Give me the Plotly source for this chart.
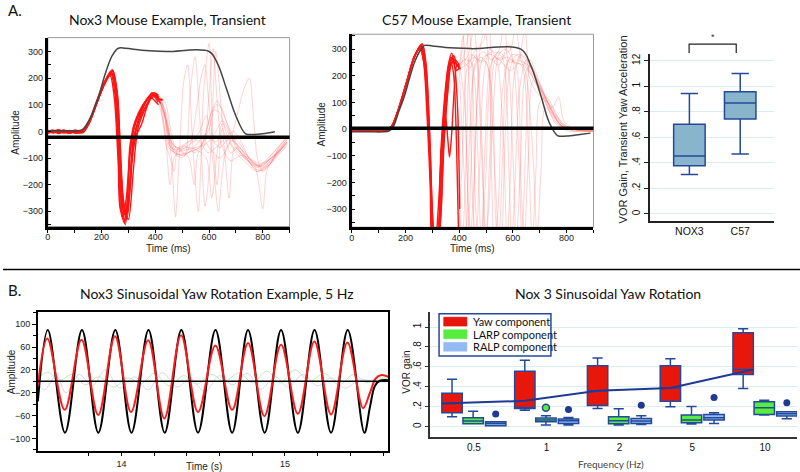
import plotly.graph_objects as go

# ======================= DATA =======================
# ---- Panel A, left: Nox3 transient (time ms, amplitude) ----
NOX3_STIM_T = [0, 60, 110, 130, 160, 190, 215, 240, 262, 290, 350, 440, 600, 630, 665, 700, 735, 760, 800, 845]
NOX3_STIM_V = [2, 2, 2, 8, 55, 135, 220, 285, 312, 312, 305, 300, 300, 258, 160, 58, -8, -12, -9, -1]
NOX3_BASELINE = -22

NOX3_BRIGHT = [
    [(0,-4),(20,4),(40,-6),(60,2),(80,-5),(100,3),(125,-3),(145,20),(175,90),(205,170),(235,225),(252,150),(265,-100),(278,-330),(292,-250),(310,-40),(330,40),(355,95),(380,135),(398,140),(415,120)],
    [(0,2),(20,-6),(40,3),(60,-4),(80,4),(100,-6),(130,0),(150,30),(180,110),(210,185),(240,232),(257,140),(270,-120),(285,-345),(300,-260),(318,-30),(340,50),(365,110),(388,145),(405,128),(425,115)],
    [(0,-8),(20,0),(40,-3),(60,5),(80,-7),(100,-1),(130,-5),(155,35),(185,115),(215,190),(232,210),(248,120),(262,-120),(272,-300),(288,-310),(305,-60),(322,30),(350,90),(375,130),(392,135),(410,110)],
    [(0,3),(20,-3),(40,6),(60,-2),(80,0),(100,-5),(128,2),(150,25),(180,100),(210,175),(238,220),(256,160),(270,-60),(284,-290),(300,-330),(318,-150),(335,10),(360,80),(385,125),(400,130),(420,105)],
    [(0,-2),(20,5),(40,-8),(60,0),(80,3),(100,-4),(130,-2),(152,28),(182,105),(212,180),(242,228),(260,130),(272,-150),(288,-350),(305,-230),(322,-20),(345,55),(370,105),(392,140),(410,125),(428,118)],
    [(0,5),(20,-4),(40,0),(60,-6),(80,2),(100,0),(130,3),(148,22),(178,95),(208,172),(236,215),(253,165),(266,-40),(282,-260),(296,-320),(312,-120),(332,20),(358,100),(382,128),(398,115),(412,100)],
    [(0,-6),(20,2),(40,4),(60,-3),(80,-6),(100,2),(130,-4),(155,32),(185,112),(215,188),(240,226),(256,150),(268,-130),(282,-340),(298,-280),(315,-80),(332,-10),(350,30),(372,100),(395,138),(415,130)],
    [(0,1),(20,-2),(40,-5),(60,4),(80,-3),(100,5),(130,-1),(150,26),(180,102),(210,178),(234,218),(250,140),(263,-90),(276,-320),(290,-300),(306,-90),(325,35),(352,98),(378,128),(395,145),(412,135)],
]
NOX3_FAINT = [
    [(415,120),(435,60),(455,-40),(475,-75),(510,-70),(550,-60),(585,-50),(620,-10),(650,40),(680,-10),(710,-70),(745,-110),(775,-135),(805,-125),(840,-90),(870,-55),(890,-35)],
    [(410,110),(430,40),(450,-60),(480,-85),(520,-80),(560,-65),(600,10),(625,100),(645,90),(670,20),(700,-60),(740,-100),(770,-140),(800,-145),(835,-110),(865,-70),(890,-40)],
    [(425,115),(445,20),(462,-70),(495,-90),(530,-75),(570,-55),(605,60),(630,115),(655,60),(690,-20),(725,-90),(760,-125),(790,-130),(820,-110),(855,-80),(890,-50)],
    [(420,100),(440,-50),(460,-120),(475,-320),(490,-80),(505,180),(520,250),(540,-60),(560,-300),(580,150),(600,330),(615,-50),(630,-200),(650,10),(680,-80),(710,-60),(740,-100),(780,-150),(820,-120),(860,-70),(890,-30)],
    [(412,130),(432,90),(450,-20),(470,-150),(485,-60),(510,-90),(530,150),(548,280),(565,60),(585,-280),(605,-100),(625,300),(640,150),(660,-100),(675,-250),(695,-60),(720,-80),(750,-110),(785,-130),(820,-100),(855,-60),(890,-20)],
    [(415,125),(440,70),(465,-50),(500,-65),(540,-40),(575,-20),(600,-60),(640,-100),(670,-60),(700,40),(730,160),(750,200),(765,60),(780,-100),(800,-150),(830,-120),(860,-60),(890,-25)],
    [(420,110),(445,30),(470,-80),(500,-100),(530,-50),(550,60),(570,200),(585,250),(600,100),(620,-40),(650,-20),(690,-60),(730,-100),(770,-130),(800,-290),(815,-150),(840,-100),(870,-60),(890,-30)],
    [(410,120),(430,80),(455,-30),(480,-60),(515,-55),(545,-80),(570,-60),(595,20),(615,80),(640,70),(665,-10),(700,-80),(740,-120),(775,-150),(810,-140),(845,-100),(875,-60),(890,-40)],
    [(418,128),(438,-20),(455,-200),(470,-100),(495,-70),(520,-60),(555,-70),(590,-100),(610,-250),(630,-80),(650,30),(680,-20),(715,-60),(750,-100),(790,-120),(830,-100),(865,-70),(890,-45)],
    [(425,105),(450,0),(475,-70),(505,-50),(535,-30),(560,-10),(590,60),(615,-120),(635,-300),(650,-150),(670,-50),(700,-30),(730,-70),(765,-120),(800,-130),(840,-80),(875,-40),(890,-20)],
    [(412,118),(432,70),(452,-50),(478,-80),(505,-90),(535,-70),(560,-40),(585,-10),(610,-30),(640,-60),(672,-30),(705,-50),(740,-90),(770,-120),(800,-135),(835,-105),(870,-65),(890,-45)],
    [(420,130),(440,100),(458,0),(475,-60),(500,-75),(525,-100),(545,-200),(560,-80),(580,-60),(600,140),(615,310),(630,120),(650,-60),(680,-110),(720,-90),(760,-110),(795,-140),(830,-120),(865,-80),(890,-55)],
    [(416,112),(436,50),(456,-60),(484,-70),(512,-50),(540,-30),(566,-40),(596,-80),(626,-60),(656,-30),(690,0),(720,-40),(750,-100),(780,-125),(812,-115),(848,-85),(890,-40)],
]

# ---- Panel A, middle: C57 transient ----
C57_STIM_T = [0, 60, 120, 140, 154, 175, 197, 215, 234, 255, 271, 300, 350, 444, 630, 667, 704, 735, 766, 800, 850, 889]
C57_STIM_V = [-10, -10, -10, -6, 8, 65, 126, 190, 251, 295, 314, 312, 306, 302, 300, 238, 126, 26, -24, -26, -20, -15]
C57_BASELINE = 3

C57_BRIGHT = [
    [(0,-5),(25,3),(50,-8),(75,0),(100,-6),(125,-2),(145,5),(170,60),(200,160),(230,260),(258,315),(272,260),(285,50),(296,-250),(306,-450),(320,-420),(334,-120),(346,80),(360,220),(372,265),(385,250),(400,230)],
    [(0,2),(25,-6),(50,0),(75,-4),(100,3),(125,-8),(148,8),(175,75),(205,175),(235,275),(262,318),(276,240),(290,-20),(300,-300),(312,-460),(328,-380),(342,-60),(355,120),(368,250),(380,275),(392,240),(405,225)],
    [(0,-3),(25,2),(50,-5),(75,4),(100,-2),(125,0),(150,12),(178,85),(208,185),(238,282),(255,305),(268,250),(280,60),(292,-200),(302,-430),(316,-440),(330,-150),(342,40),(356,200),(370,250),(380,200),(390,-50),(398,-400)],
    [(0,4),(25,-3),(50,2),(75,-7),(100,0),(125,-4),(145,6),(172,70),(202,170),(232,270),(256,312),(270,270),(283,80),(294,-180),(304,-400),(318,-400),(332,-80),(345,110),(358,230),(370,270),(385,245),(402,240)],
    [(0,-7),(25,0),(50,3),(75,-2),(100,-8),(125,2),(150,10),(176,80),(206,180),(236,278),(260,310),(274,230),(288,-40),(298,-320),(310,-450),(322,-300),(336,-60),(348,60),(358,-40),(364,-105),(372,-20),(382,150),(392,240),(402,235)],
    [(0,0),(25,-4),(50,-2),(75,3),(100,-5),(125,-6),(146,4),(173,72),(203,172),(233,272),(254,300),(268,255),(282,90),(293,-150),(303,-420),(318,-430),(333,-100),(347,90),(360,240),(372,285),(384,230),(395,60),(402,-300)],
    [(0,-2),(25,5),(50,-6),(75,-3),(100,2),(125,-3),(149,9),(177,82),(207,182),(237,280),(263,320),(278,230),(292,-60),(302,-350),(314,-460),(330,-350),(344,-50),(358,140),(372,250),(386,260),(400,240)],
    [(0,3),(25,-1),(50,-4),(75,5),(100,-3),(125,1),(147,7),(174,74),(204,174),(234,276),(258,308),(272,250),(286,30),(297,-260),(308,-440),(324,-360),(338,-70),(352,100),(366,230),(378,250),(390,220),(402,230)],
]
C57_FAINT = [
    [(400,230),(415,350),(428,-100),(440,-420),(455,-200),(470,150),(490,270),(520,280),(550,260),(580,270),(610,250),(640,240),(670,200),(700,150),(730,80),(760,20),(800,0),(850,-5),(900,-10)],
    [(402,240),(420,100),(435,-300),(448,-430),(462,0),(478,300),(495,380),(510,250),(535,-200),(548,-420),(562,-100),(580,250),(600,280),(625,270),(655,230),(690,160),(720,100),(750,40),(780,10),(830,5),(900,0)],
    [(398,-400),(410,-150),(425,200),(445,280),(470,260),(500,250),(525,100),(540,-380),(555,-420),(570,-50),(590,230),(615,280),(640,270),(665,220),(700,160),(735,90),(765,30),(800,-5),(860,-8),(900,-5)],
    [(400,220),(418,280),(438,360),(452,120),(465,-350),(480,-430),(495,-100),(515,230),(545,290),(575,260),(600,-100),(612,-420),(628,-150),(645,200),(665,240),(695,180),(725,110),(760,50),(795,10),(850,0),(900,-3)],
    [(402,-300),(412,-420),(428,-50),(442,260),(465,300),(490,330),(510,400),(525,260),(548,240),(570,280),(592,300),(610,380),(628,270),(650,200),(675,-100),(690,-400),(705,-150),(720,80),(745,60),(775,20),(820,-5),(900,-8)],
    [(400,240),(420,260),(445,250),(470,-100),(482,-420),(498,-200),(512,150),(530,270),(560,250),(590,220),(620,250),(645,380),(660,200),(680,150),(705,120),(740,90),(770,40),(810,5),(860,0),(900,2)],
    [(395,60),(405,-380),(420,-420),(438,-60),(455,220),(480,270),(505,240),(520,-150),(530,-420),(545,-300),(562,150),(585,260),(610,240),(630,-200),(642,-420),(658,-100),(675,180),(705,150),(740,80),(775,25),(830,0),(900,-6)],
    [(402,230),(425,240),(455,270),(480,250),(505,280),(530,290),(560,270),(585,-150),(596,-420),(608,-200),(625,150),(650,260),(680,200),(712,130),(748,60),(785,10),(840,-2),(900,-4)],
    [(400,235),(412,300),(425,420),(438,150),(450,-250),(462,-430),(476,-150),(492,200),(515,300),(540,260),(565,-50),(578,-420),(592,-150),(605,200),(630,280),(660,250),(690,180),(720,110),(755,40),(790,5),(850,-3),(900,-6)],
    [(398,220),(418,250),(440,230),(462,280),(485,-50),(497,-420),(510,-300),(528,100),(548,280),(572,300),(598,260),(622,-100),(634,-420),(648,-50),(665,260),(690,200),(718,130),(745,80),(770,120),(790,30),(830,0),(900,-8)],
    [(402,245),(430,270),(455,380),(470,200),(488,-200),(500,-420),(514,-100),(535,260),(560,270),(585,320),(605,250),(632,240),(660,-150),(672,-420),(686,-150),(700,100),(725,120),(760,60),(790,10),(850,-5),(900,-10)],
    [(400,230),(420,-200),(432,-420),(446,-100),(460,250),(490,290),(520,260),(550,300),(570,420),(586,250),(615,260),(640,250),(668,230),(698,170),(730,100),(760,40),(790,5),(840,-5),(900,0)],
]

# ---- Panel A, right: transient VOR gain boxplot ----
GAIN_GROUPS = ["NOX3", "C57"]
GAIN_Q1 = [0.378, 0.744]
GAIN_MED = [0.454, 0.869]
GAIN_Q3 = [0.702, 0.957]
GAIN_LO = [0.308, 0.470]
GAIN_HI = [0.944, 1.100]
GAIN_TICKS = [0, 0.2, 0.4, 0.6, 0.8, 1.0, 1.2]
GAIN_TICKTEXT = ["0", ".2", ".4", ".6", ".8", "1", "12"]

# ---- Panel B, left: 5 Hz sinusoid example (time s, amplitude) ----
HEAD_T = [13.488, 13.549, 13.654, 13.758, 13.858, 13.962, 14.061, 14.165, 14.264, 14.366, 14.468,
          14.575, 14.677, 14.774, 14.876, 14.976, 15.079, 15.181, 15.282, 15.384, 15.486, 15.52, 15.55, 15.58, 15.632]
HEAD_V = [-35, 90, -90, 90, -90, 90, -90, 90, -90, 90, -90,
          90, -90, 90, -90, 90, -90, 90, -90, 90, -90, -45, -8, 1, 2]
EYE_T = [13.488, 13.546, 13.652, 13.755, 13.857, 13.960, 14.058, 14.163, 14.262, 14.364, 14.468,
         14.574, 14.677, 14.774, 14.874, 14.976, 15.079, 15.180, 15.282, 15.382, 15.478, 15.52, 15.555, 15.59, 15.632]
EYE_V = [-7, 75, -50, 73, -59, 79, -54, 72, -65, 81, -54,
         63, -50, 67, -61, 64, -57, 70, -58, 68, -47, -20, 5, 11, 8]
LARP_T = [13.49, 13.55, 13.62, 13.70, 13.78, 13.86, 13.95, 14.04, 14.12, 14.20, 14.29, 14.38, 14.46, 14.55,
          14.63, 14.72, 14.80, 14.89, 14.97, 15.06, 15.15, 15.24, 15.33, 15.42, 15.50, 15.58, 15.63]
LARP_V = [5, 16, 2, 12, -6, 8, -10, 6, -4, 14, -8, 10, -5, 12, 0, 15, -2, 18, -3, 20, 0, 14, -6, 12, -2, 6, 4]
RALP_T = [13.49, 13.53, 13.60, 13.66, 13.74, 13.82, 13.90, 13.99, 14.08, 14.16, 14.25, 14.34, 14.42, 14.51,
          14.60, 14.68, 14.77, 14.85, 14.94, 15.02, 15.11, 15.20, 15.28, 15.37, 15.46, 15.55, 15.63]
RALP_V = [-5, -15, 10, -20, 12, -8, 20, -12, 8, -15, 15, -10, 5, -18, 10, -6, 14, -14, 8, -10, 12, -8, 6, -12, 4, -2, 0]
TIME_TICKS = [13.8, 14.0, 14.2, 14.4, 14.6, 14.8, 15.0, 15.2, 15.4, 15.6]
TIME_TICKTEXT = ["", "14", "", "", "", "", "15", "", "", ""]

# ---- Panel B, right: VOR gain by frequency ----
FREQ_LABELS = ["0.5", "1", "2", "5", "10"]
YAW_Q1 = [0.140, 0.183, 0.213, 0.257, 0.523]
YAW_MED = [0.234, 0.185, 0.360, 0.390, 0.573]
YAW_Q3 = [0.337, 0.557, 0.613, 0.613, 0.943]
YAW_LO = [0.100, 0.167, 0.183, 0.200, 0.383]
YAW_HI = [0.477, 0.667, 0.690, 0.683, 0.983]
LARP_Q1 = [0.030, 0.050, 0.030, 0.040, 0.123]
LARP_MED = [0.057, 0.067, 0.060, 0.067, 0.190]
LARP_Q3 = [0.090, 0.087, 0.100, 0.117, 0.250]
LARP_LO = [0.030, 0.017, 0.017, 0.027, 0.117]
LARP_HI = [0.157, 0.110, 0.180, 0.203, 0.267]
RALP_Q1 = [0.010, 0.033, 0.033, 0.067, 0.107]
RALP_MED = [0.033, 0.060, 0.057, 0.090, 0.130]
RALP_Q3 = [0.050, 0.077, 0.083, 0.123, 0.150]
RALP_LO = [0.010, 0.017, 0.023, 0.033, 0.080]
RALP_HI = [0.050, 0.093, 0.110, 0.140, 0.150]
LARP_OUTLIER_FREQ = ["1"]
LARP_OUTLIER_V = [0.190]
RALP_OUTLIER_V = [0.127, 0.173, 0.217, 0.293, 0.240]
YAW_TREND = [0.234, 0.260, 0.360, 0.390, 0.575]
GAIN_B_TICKS = [0, 0.2, 0.4, 0.6, 0.8, 1.0]
GAIN_B_TICKTEXT = ["0", ".2", ".4", ".6", ".8", "1"]

# ======================= STYLE / LAYOUT =======================
W, H = 800, 472
def PX(x): return x / W
def PY(y): return 1 - y / H

TICKFONT = dict(family="Liberation Sans, Arial", size=9, color="#222")
TITLEFONT = dict(family="Lato, Open Sans", size=14, color="#111")
LABELFONT = dict(family="Liberation Sans, Arial", size=10, color="#222")

BRIGHT_RED = "#ff1414"
FAINT_RED = "rgba(255,110,110,0.3)"
BOX_BLUE = "#24499a"

fig = go.Figure()

def add_traces(traces, color, width, xa, ya):
    for tr in traces:
        fig.add_trace(go.Scatter(x=[p[0] for p in tr], y=[p[1] for p in tr], mode="lines",
                                 line=dict(color=color, width=width, shape="spline", smoothing=0.8),
                                 xaxis=xa, yaxis=ya, showlegend=False, hoverinfo="skip"))

# Panel A left
add_traces(NOX3_FAINT, FAINT_RED, 1, "x", "y")
add_traces(NOX3_BRIGHT, BRIGHT_RED, 1.4, "x", "y")
fig.add_trace(go.Scatter(x=NOX3_STIM_T, y=NOX3_STIM_V, mode="lines",
                         line=dict(color="#444", width=1.5, shape="spline"),
                         xaxis="x", yaxis="y", showlegend=False))
# Panel A middle
add_traces(C57_FAINT, FAINT_RED, 1, "x2", "y2")
add_traces(C57_BRIGHT, BRIGHT_RED, 1.4, "x2", "y2")
fig.add_trace(go.Scatter(x=C57_STIM_T, y=C57_STIM_V, mode="lines",
                         line=dict(color="#444", width=1.5, shape="spline"),
                         xaxis="x2", yaxis="y2", showlegend=False))

# Panel A right boxes
fig.add_trace(go.Box(x=[0, 1], q1=GAIN_Q1, median=GAIN_MED, q3=GAIN_Q3,
                     lowerfence=GAIN_LO, upperfence=GAIN_HI, width=0.62, whiskerwidth=0.55,
                     fillcolor="#88b4cc", line=dict(color=BOX_BLUE, width=1.5),
                     boxpoints=False, xaxis="x3", yaxis="y3", showlegend=False))

# Panel B left
fig.add_trace(go.Scatter(x=LARP_T, y=LARP_V, mode="lines", line=dict(color="#bdeab5", width=1, shape="spline"),
                         xaxis="x4", yaxis="y4", showlegend=False))
fig.add_trace(go.Scatter(x=RALP_T, y=RALP_V, mode="lines", line=dict(color="#d4d4f6", width=1, shape="spline"),
                         xaxis="x4", yaxis="y4", showlegend=False))
fig.add_trace(go.Scatter(x=HEAD_T, y=HEAD_V, mode="lines", line=dict(color="black", width=2, shape="spline"),
                         xaxis="x4", yaxis="y4", showlegend=False))
fig.add_trace(go.Scatter(x=EYE_T, y=EYE_V, mode="lines", line=dict(color="#ff1a1a", width=2, shape="spline"),
                         xaxis="x4", yaxis="y4", showlegend=False))

# Panel B right boxes
idx = list(range(len(FREQ_LABELS)))
OFF = 0.30
BW = 0.28
for dx, q1, med, q3, lo, hi, fill in [
        (-OFF, YAW_Q1, YAW_MED, YAW_Q3, YAW_LO, YAW_HI, "#e8170b"),
        (-0.01, LARP_Q1, LARP_MED, LARP_Q3, LARP_LO, LARP_HI, "#55ee3c"),
        (OFF, RALP_Q1, RALP_MED, RALP_Q3, RALP_LO, RALP_HI, "#93bbf2")]:
    fig.add_trace(go.Box(x=[i + dx for i in idx], q1=q1, median=med, q3=q3,
                         lowerfence=lo, upperfence=hi, width=BW, whiskerwidth=0.5,
                         fillcolor=fill, line=dict(color=BOX_BLUE, width=1.5),
                         boxpoints=False, xaxis="x5", yaxis="y5", showlegend=False))
fig.add_trace(go.Scatter(x=[FREQ_LABELS.index(f) - 0.01 for f in LARP_OUTLIER_FREQ], y=LARP_OUTLIER_V,
                         mode="markers", marker=dict(color="#55ee3c", size=7, line=dict(color=BOX_BLUE, width=1.5)),
                         xaxis="x5", yaxis="y5", showlegend=False))
fig.add_trace(go.Scatter(x=[i + OFF for i in idx], y=RALP_OUTLIER_V, mode="markers",
                         marker=dict(color="#1d3a8f", size=7),
                         xaxis="x5", yaxis="y5", showlegend=False))
trend_x = [i - OFF for i in idx]
trend_x[0] -= BW / 2
trend_x[-1] += BW / 2
fig.add_trace(go.Scatter(x=trend_x, y=YAW_TREND, mode="lines", line=dict(color="#1f3a94", width=2),
                         xaxis="x5", yaxis="y5", showlegend=False))

# ---------- axes ----------
axA = dict(showgrid=False, zeroline=False, showline=True, linecolor="black", linewidth=3,
           tickfont=TICKFONT, ticklen=3, tickcolor="black", tickwidth=1)
fig.update_layout(
    xaxis=dict(axA, domain=[PX(45), PX(287.7)], range=[0, 900], anchor="y", ticks="outside",
               ticklabelstandoff=-3,
               tick0=0, dtick=200, minor=dict(dtick=100, ticks="outside", ticklen=3, tickcolor="black")),
    yaxis=dict(axA, domain=[PY(226), PY(36.7)], range=[-357, 352], anchor="x", ticks="inside",
               tick0=0, dtick=100, minor=dict(dtick=50, ticks="inside", ticklen=3, tickcolor="black")),
    xaxis2=dict(axA, domain=[PX(350), PX(592.7)], range=[0, 900], anchor="y2", ticks="outside",
                ticklabelstandoff=-3,
                tick0=0, dtick=200, minor=dict(dtick=100, ticks="outside", ticklen=3, tickcolor="black")),
    yaxis2=dict(axA, domain=[PY(226.7), PY(33.3)], range=[-368, 356], anchor="x2", ticks="inside",
                tick0=0, dtick=100, minor=dict(dtick=50, ticks="inside", ticklen=3, tickcolor="black")),
    xaxis3=dict(domain=[PX(649.3), PX(774.3)], range=[-0.778, 1.673], anchor="y3",
                tickvals=[0, 1], ticktext=GAIN_GROUPS, showgrid=False, zeroline=False,
                showline=True, linecolor="#222", linewidth=1.5, ticks="",
                tickfont=dict(family="Liberation Sans, Arial", size=10.5, color="#111")),
    yaxis3=dict(domain=[PY(220), PY(53.3)], range=[-0.052, 1.252], anchor="x3",
                tickvals=GAIN_TICKS, ticktext=GAIN_TICKTEXT, tickangle=-90,
                showgrid=True, gridcolor="#d9eeee", gridwidth=1, zeroline=False,
                showline=True, linecolor="#222", linewidth=1.5, ticks="outside", ticklen=4,
                tickcolor="#222", tickfont=dict(family="Liberation Sans, Arial", size=10, color="#111")),
    xaxis4=dict(domain=[PX(35), PX(386.7)], range=[13.488, 15.632], anchor="y4",
                tickvals=TIME_TICKS, ticktext=TIME_TICKTEXT, ticks="outside", ticklen=4, tickcolor="black",
                showgrid=False, zeroline=False, showline=True, mirror=True, linecolor="black", linewidth=1.5,
                tickfont=TICKFONT),
    yaxis4=dict(domain=[PY(450.7), PY(311.7)], range=[-121.7, 121.5], anchor="x4",
                tick0=20, dtick=40, ticks="outside", ticklen=4, tickcolor="black",
                minor=dict(dtick=20, tick0=0, ticks="outside", ticklen=3, tickcolor="black"),
                showgrid=False, zeroline=False, showline=True, mirror=True, linecolor="black", linewidth=1.5,
                tickfont=TICKFONT),
    xaxis5=dict(domain=[PX(428.3), PX(797)], range=[-0.607, 4.44], anchor="y5",
                tickvals=idx, ticktext=FREQ_LABELS, ticks="", showgrid=False, zeroline=False,
                showline=True, linecolor="#333", linewidth=1.5,
                tickfont=dict(family="Liberation Sans, Arial", size=10, color="#111")),
    yaxis5=dict(domain=[PY(437.3), PY(311.7)], range=[-0.106, 1.15], anchor="x5",
                tickvals=GAIN_B_TICKS, ticktext=GAIN_B_TICKTEXT, tickangle=-90,
                showgrid=True, gridcolor="#d9eeee", gridwidth=1, zeroline=False,
                showline=True, linecolor="#333", linewidth=1.5, ticks="outside", ticklen=3, tickcolor="#333",
                tickfont=dict(family="Liberation Sans, Arial", size=10, color="#111")),
)

shapes = []
# Panel A frames (thin gray top/right) and thick baselines
for xa, ya, base in [("x", "y", NOX3_BASELINE), ("x2", "y2", C57_BASELINE)]:
    shapes.append(dict(type="rect", xref=xa + " domain", yref=ya + " domain", x0=0, x1=1, y0=0, y1=1,
                       line=dict(color="#999", width=1), layer="below"))
    shapes.append(dict(type="line", xref=xa + " domain", yref=ya, x0=0, x1=1, y0=base, y1=base,
                       line=dict(color="black", width=3.5)))
# zero line panel B left
shapes.append(dict(type="line", xref="x4 domain", yref="y4", x0=0, x1=1, y0=0, y1=0,
                   line=dict(color="black", width=1.5)))
# significance bracket
shapes.append(dict(type="path", xref="paper", yref="paper",
                   path=f"M {PX(688.7)},{PY(52)} L {PX(688.7)},{PY(43.3)} L {PX(736)},{PY(43.3)} L {PX(736)},{PY(52)}",
                   line=dict(color="#222", width=1.2)))
# horizontal separator
shapes.append(dict(type="line", xref="paper", yref="paper", x0=0, x1=1, y0=PY(269), y1=PY(269),
                   line=dict(color="black", width=1.5)))
# custom legend for panel B right
shapes.append(dict(type="rect", xref="paper", yref="paper", x0=PX(437.7), x1=PX(550), y0=PY(355.7), y1=PY(313.3),
                   line=dict(color=BOX_BLUE, width=1.5), fillcolor="white"))
LEG_ITEMS = [("Yaw component", "#e8170b"), ("LARP component", "#55ee3c"), ("RALP component", "#93bbf2")]
annotations = []
for k, (lab, col) in enumerate(LEG_ITEMS):
    yc = 321.3 + k * 12.6
    shapes.append(dict(type="rect", xref="paper", yref="paper", x0=PX(442.3), x1=PX(465.7),
                       y0=PY(yc + 4.5), y1=PY(yc - 4.5), line=dict(color=col, width=0.5), fillcolor=col))
    annotations.append(dict(text=lab, x=PX(470), y=PY(yc), xref="paper", yref="paper", showarrow=False,
                            xanchor="left", yanchor="middle",
                            font=dict(family="Lato, Open Sans", size=11, color="#111")))

def ann(text, x, y, font, angle=0, xanchor="center"):
    annotations.append(dict(text=text, x=PX(x), y=PY(y), xref="paper", yref="paper", showarrow=False,
                            xanchor=xanchor, yanchor="middle", textangle=angle, font=font))

ann("A.", 3, 9, dict(family="Lato, Open Sans", size=15, color="#111"), xanchor="left")
ann("B.", 3, 290, dict(family="Lato, Open Sans", size=15, color="#111"), xanchor="left")
ann("Nox3 Mouse Example, Transient", 164.7, 18.5, TITLEFONT)
ann("C57 Mouse Example, Transient", 475.5, 18.5, TITLEFONT)
ann("Nox3 Sinusoidal Yaw Rotation Example, 5 Hz", 214.5, 293.5, TITLEFONT)
ann("Nox 3 Sinusoidal Yaw Rotation", 607.5, 293.5, TITLEFONT)
ann("Amplitude", 13, 131, LABELFONT, angle=-90)
ann("Amplitude", 320, 123, LABELFONT, angle=-90)
ann("Amplitude", 8, 371, LABELFONT, angle=-90)
ann("Time (ms)", 166, 248.5, LABELFONT)
ann("Time (ms)", 471, 248.5, LABELFONT)
ann("Time (s)", 202, 466, LABELFONT)
ann("VOR Gain, Transient Yaw Acceleration", 622, 129, dict(family="Liberation Sans, Arial", size=11, color="#222"), angle=-90)
ann("VOR gain", 405, 372, LABELFONT, angle=-90)
ann("Frequency (Hz)", 610, 464, dict(family="Lato, Open Sans", size=10, color="#444"))
ann("*", 713, 36, dict(family="Liberation Sans, Arial", size=9, color="#333"))

fig.update_layout(width=W, height=H, margin=dict(l=0, r=0, t=0, b=0),
                  paper_bgcolor="white", plot_bgcolor="white",
                  shapes=shapes, annotations=annotations, showlegend=False, boxmode="overlay")

fig.write_html("out.html", config={"displayModeBar": False},
               post_script="document.body.style.margin='0';document.body.style.padding='0';"
                           "document.body.style.overflow='hidden';")
